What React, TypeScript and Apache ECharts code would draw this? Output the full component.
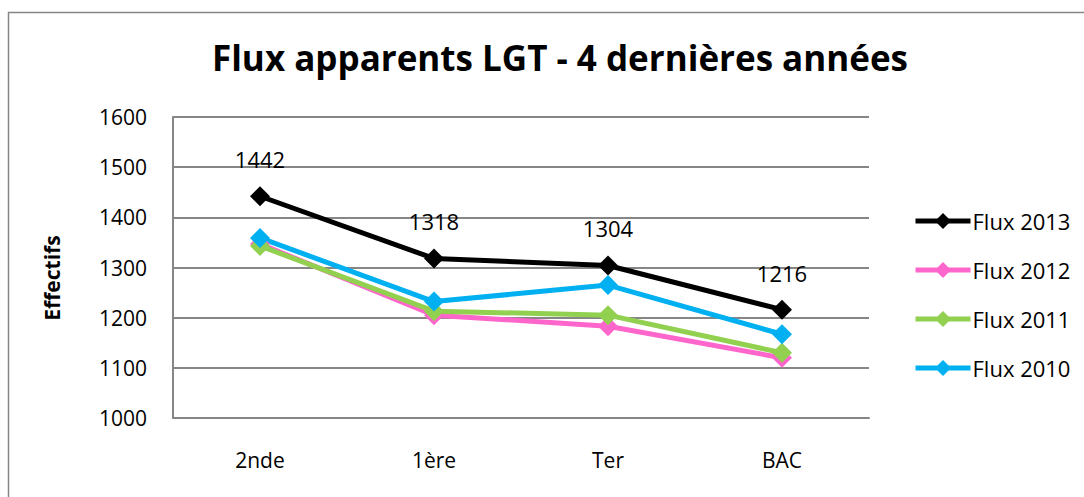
import React, { useEffect, useRef } from "react";
import * as echarts from "echarts";

const categories = ["2nde", "1ère", "Ter", "BAC"];
const flux2013 = [1442, 1318, 1304, 1216];
const flux2012 = [1347, 1205, 1183, 1120];
const flux2011 = [1343, 1213, 1205, 1130];
const flux2010 = [1359, 1232, 1265, 1167];
const yTicks = { min: 1000, max: 1600, interval: 100 };

const FONT = "'Open Sans', 'Noto Sans', sans-serif";

export default function App() {
  const ref = useRef<HTMLDivElement>(null);
  useEffect(() => {
    document.body.style.margin = "0";
    const chart = echarts.init(ref.current!, null, { renderer: "svg" });
    const mk = (name: string, data: number[], color: string, label: boolean) => ({
      name,
      type: "line",
      data,
      symbol: "diamond",
      symbolSize: 20,
      lineStyle: { width: 5, color },
      itemStyle: { color },
      label: label
        ? { show: true, position: "top", distance: 16, color: "#000", fontSize: 22, fontFamily: FONT }
        : { show: false },
    });
    chart.setOption({
      animation: false,
      textStyle: { fontFamily: FONT },
      title: {
        text: "Flux apparents LGT - 4 dernières années",
        left: 555,
        textAlign: "center",
        top: 35,
        textStyle: { fontSize: 35, fontWeight: "bold", color: "#000", fontFamily: FONT },
      },
      graphic: [
        {
          type: "rect",
          shape: { x: 8.5, y: 12.5, width: 1200, height: 700 },
          style: { fill: "none", stroke: "#868686", lineWidth: 1.5 },
          silent: true,
        },
        {
          type: "text",
          x: 52,
          y: 278,
          rotation: Math.PI / 2,
          style: {
            text: "Effectifs",
            fontSize: 21,
            fontWeight: "bold",
            fontFamily: FONT,
            fill: "#000",
            align: "center",
            verticalAlign: "middle",
          },
        },
      ],
      legend: {
        orient: "vertical",
        left: 908,
        top: 205,
        itemWidth: 55,
        itemHeight: 20,
        itemGap: 27,
        lineStyle: { width: 5 },
        data: ["Flux 2013", "Flux 2012", "Flux 2011", "Flux 2010"],
        textStyle: { fontSize: 22, lineHeight: 20, color: "#000", fontFamily: FONT, padding: [0, 0, 0, -3] },
      },
      grid: { left: 173, top: 117, width: 696, height: 301, containLabel: false },
      xAxis: {
        type: "category",
        data: categories,
        boundaryGap: true,
        axisLine: { lineStyle: { color: "#868686", width: 2 } },
        axisTick: { show: false },
        axisLabel: { color: "#000", fontSize: 21, margin: 31 },
      },
      yAxis: {
        type: "value",
        min: yTicks.min,
        max: yTicks.max,
        interval: yTicks.interval,
        axisLine: { show: true, lineStyle: { color: "#868686", width: 2 } },
        axisTick: { show: false },
        axisLabel: { color: "#000", fontSize: 21, margin: 26, formatter: (v: number) => String(v) },
        splitLine: { lineStyle: { color: "#868686", width: 2 } },
      },
      series: [
        mk("Flux 2012", flux2012, "#FF66CC", false),
        mk("Flux 2011", flux2011, "#92D050", false),
        mk("Flux 2010", flux2010, "#00B0F0", false),
        mk("Flux 2013", flux2013, "#000000", true),
      ],
    });
    return () => chart.dispose();
  }, []);
  return <div ref={ref} style={{ width: 1084, height: 497 }} />;
}
